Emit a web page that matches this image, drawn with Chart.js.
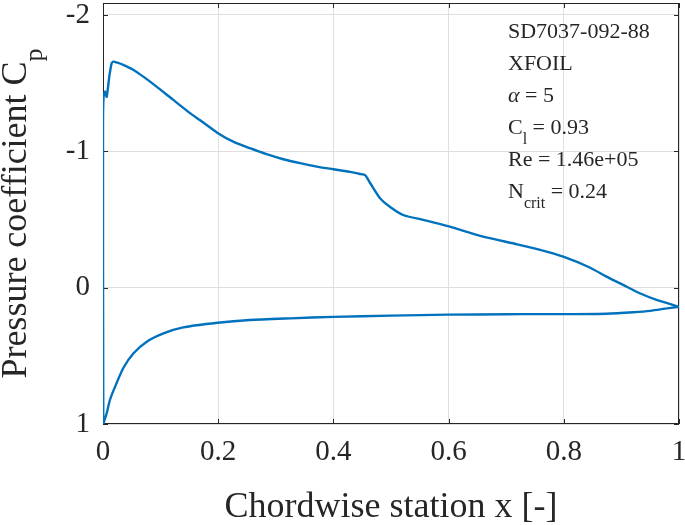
<!DOCTYPE html>
<html>
<head>
<meta charset="utf-8">
<script src="https://cdn.jsdelivr.net/npm/chart.js@4.4.1/dist/chart.umd.min.js"></script>
<style>
  body { margin: 0; background: #fff; }
  #wrap { width: 685px; height: 525px; position: relative; }
</style>
</head>
<body>
<div id="wrap"><canvas id="cpChart"></canvas></div>
<script>
// axis ticks
const xTicks = [0, 0.2, 0.4, 0.6, 0.8, 1];
const yTicks = [-2, -1, 0, 1];

// upper surface, trailing edge -> leading edge
const upperX = [1.0, 0.961, 0.932, 0.903, 0.874, 0.845, 0.799, 0.759, 0.719, 0.66, 0.597, 0.556, 0.521, 0.498, 0.481, 0.464, 0.455, 0.446, 0.429,
  0.4, 0.371, 0.342, 0.313, 0.284, 0.255, 0.226, 0.199, 0.168, 0.151, 0.122, 0.093, 0.07, 0.053, 0.035, 0.025, 0.018, 0.015, 0.011, 0.0064, 0.0035, 0.001, 0.0];
const upperCp = [0.14, 0.09, 0.041, -0.02, -0.081, -0.148, -0.227, -0.277, -0.318, -0.374, -0.453, -0.497, -0.533, -0.594, -0.656, -0.766, -0.825, -0.834, -0.849,
  -0.869, -0.888, -0.913, -0.942, -0.979, -1.023, -1.071, -1.135, -1.23, -1.28, -1.377, -1.475, -1.548, -1.597, -1.634, -1.65, -1.658, -1.646, -1.55, -1.40, -1.44, -1.40, -1.2];

// lower surface, leading edge -> trailing edge
const lowerX = [0.0005, 0.0064, 0.012, 0.021, 0.035, 0.053, 0.076, 0.105, 0.139, 0.199, 0.255, 0.325,
  0.4, 0.5, 0.6, 0.7, 0.759, 0.817, 0.874, 0.921, 0.95, 0.979, 1.0];
const lowerCp = [0.995, 0.921, 0.824, 0.726, 0.591, 0.481, 0.396, 0.335, 0.291, 0.257, 0.237, 0.225,
  0.214, 0.205, 0.198, 0.195, 0.194, 0.194, 0.191, 0.18, 0.17, 0.152, 0.14];

// annotation text (sub = subscript)
const infoLines = [
  [{ t: 'SD7037-092-88' }],
  [{ t: 'XFOIL' }],
  [{ t: 'α', it: true }, { t: ' = 5' }],
  [{ t: 'C' }, { t: 'l', sub: true }, { t: ' = 0.93' }],
  [{ t: 'Re = 1.46e+05' }],
  [{ t: 'N' }, { t: 'crit', sub: true }, { t: ' = 0.24' }]
];

const FONT = '"Liberation Serif", "Times New Roman", serif';
const AXIS_COLOR = '#262626';
const LINE_BLUE = '#0072BD';

const points = upperX.map((x, i) => ({ x: x, y: upperCp[i] }))
  .concat(lowerX.map((x, i) => ({ x: x, y: lowerCp[i] })));

// draw text with optional subscripts, left aligned at x
function drawRich(ctx, x, y, parts, size) {
  let cx = x;
  parts.forEach(p => {
    const s = p.sub ? Math.round(size * 0.72) : size;
    ctx.font = (p.it ? 'italic ' : '') + s + 'px ' + FONT;
    ctx.fillText(p.t, cx, p.sub ? y + size * 0.45 : y);
    cx += ctx.measureText(p.t).width;
  });
  return cx - x;
}
function richWidth(ctx, parts, size) {
  let w = 0;
  parts.forEach(p => {
    const s = p.sub ? Math.round(size * 0.72) : size;
    ctx.font = (p.it ? 'italic ' : '') + s + 'px ' + FONT;
    w += ctx.measureText(p.t).width;
  });
  return w;
}

const framePlugin = {
  id: 'frame',
  beforeDatasetsDraw(chart) {
    const { ctx, chartArea: a, scales } = chart;
    ctx.save();
    ctx.strokeStyle = AXIS_COLOR;
    ctx.lineWidth = 1;
    ctx.strokeRect(a.left + 0.5, a.top + 0.5, a.right - a.left - 1, a.bottom - a.top - 1);
    const tl = 5;
    ctx.beginPath();
    xTicks.forEach(v => {
      const px = Math.round(scales.x.getPixelForValue(v)) + 0.5;
      ctx.moveTo(px, a.bottom); ctx.lineTo(px, a.bottom - tl);
      ctx.moveTo(px, a.top); ctx.lineTo(px, a.top + tl);
    });
    yTicks.forEach(v => {
      const py = Math.round(scales.y.getPixelForValue(v)) + 0.5;
      ctx.moveTo(a.left, py); ctx.lineTo(a.left + tl, py);
      ctx.moveTo(a.right, py); ctx.lineTo(a.right - tl, py);
    });
    ctx.stroke();
    ctx.restore();
  },
  afterDraw(chart) {
    const { ctx, chartArea: a } = chart;
    ctx.save();
    ctx.fillStyle = AXIS_COLOR;
    ctx.textBaseline = 'alphabetic';
    ctx.textAlign = 'left';

    // x axis title
    ctx.font = '36px ' + FONT;
    const xt = 'Chordwise station x [-]';
    const xw = ctx.measureText(xt).width;
    ctx.fillText(xt, (a.left + a.right) / 2 - xw / 2, 517);

    // y axis title, rotated
    const yParts = [{ t: 'Pressure coefficient C' }, { t: 'p', sub: true }];
    const yw = richWidth(ctx, yParts, 36);
    ctx.save();
    ctx.translate(26, (a.top + a.bottom) / 2 + yw / 2);
    ctx.rotate(-Math.PI / 2);
    drawRich(ctx, 0, 0, yParts, 36);
    ctx.restore();

    // info box text
    infoLines.forEach((parts, i) => {
      drawRich(ctx, 508, 38 + i * 32, parts, 22);
    });
    ctx.restore();
  }
};

const ctx = document.getElementById('cpChart').getContext('2d');
const cpChart = new Chart(ctx, {
  type: 'scatter',
  data: {
    datasets: [{
      data: points,
      showLine: true,
      borderColor: LINE_BLUE,
      borderWidth: 2.4,
      pointRadius: 0,
      tension: 0.2,
      fill: false
    }]
  },
  options: {
    responsive: true,
    maintainAspectRatio: false,
    devicePixelRatio: 1,
    animation: false,
    layout: { padding: { left: 0, top: 3, right: 6, bottom: 0 } },
    plugins: {
      legend: { display: false },
      tooltip: { enabled: false }
    },
    scales: {
      x: {
        type: 'linear',
        min: 0,
        max: 1,
        afterBuildTicks: s => { s.ticks = xTicks.map(v => ({ value: v })); },
        afterFit: s => { s.height = 101; s.paddingLeft = 0; s.paddingRight = 0; },
        grid: { color: '#dfdfdf', drawTicks: false },
        border: { display: false },
        ticks: {
          padding: 11,
          maxRotation: 0,
          color: AXIS_COLOR,
          font: { family: FONT, size: 29 },
          callback: v => String(v)
        }
      },
      y: {
        type: 'linear',
        reverse: true,
        min: -2.088,
        max: 1,
        afterBuildTicks: s => { s.ticks = yTicks.map(v => ({ value: v })); },
        afterFit: s => { s.width = 103; s.paddingTop = 0; s.paddingBottom = 0; },
        grid: { color: '#dfdfdf', drawTicks: false },
        border: { display: false },
        ticks: {
          padding: 13,
          color: AXIS_COLOR,
          font: { family: FONT, size: 29 },
          callback: v => String(v)
        }
      }
    }
  },
  plugins: [framePlugin]
});
</script>
</body>
</html>
